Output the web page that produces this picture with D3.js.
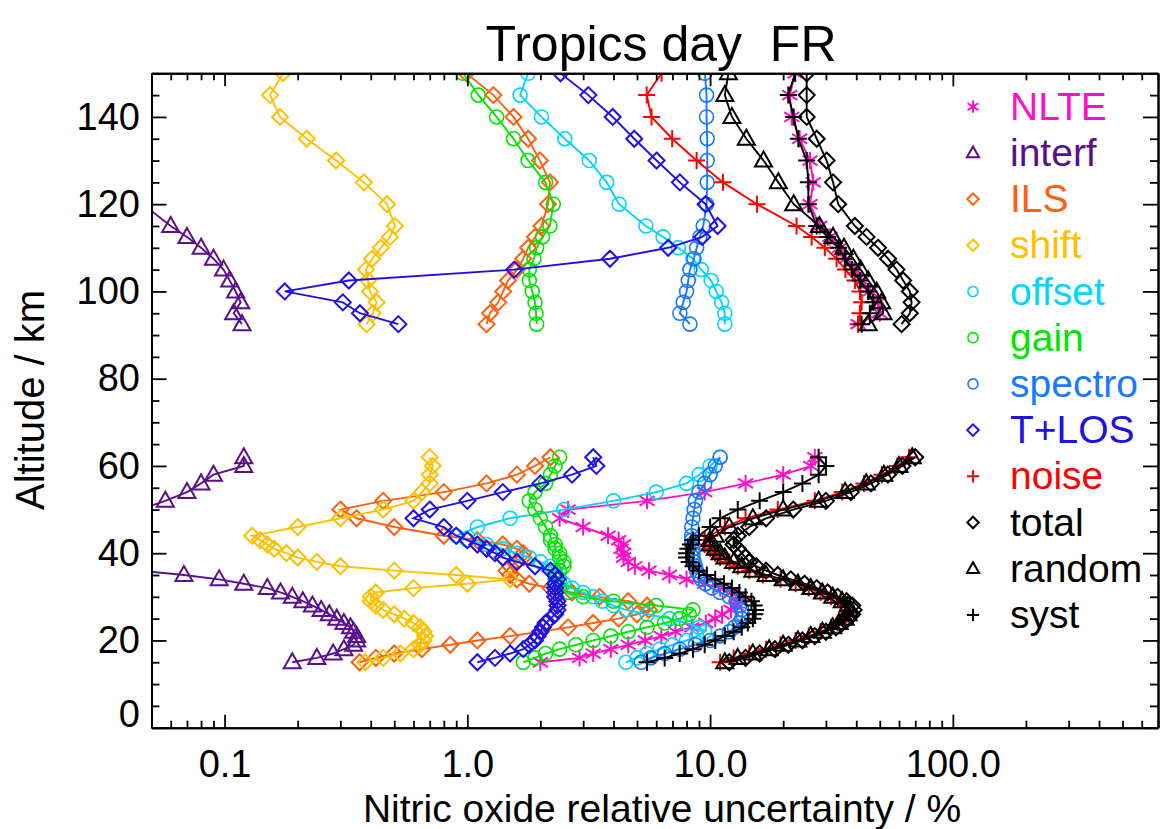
<!DOCTYPE html>
<html><head><meta charset="utf-8">
<script src="https://cdn.jsdelivr.net/npm/d3@7"></script>
<style>
body{margin:0;background:#fff}
svg{display:block}
text{font-family:"Liberation Sans",Arial,Helvetica,sans-serif;fill:#000}
</style>
</head><body>
<svg id="chart" width="1168" height="829"></svg>
<script>
// ---------------- DATA ----------------
const altHigh = [92.5,95,97.5,100,102.5,105,107.5,110,112.5,115,120,125,130,135,140,145,150];
const altLow  = [15,16,17,18,19,20,21,22,23,24,25,26,27,28,29,30,31,32,33,34,35,36,37,38,39,40,41,42,43,44,46,48,50,52,54,56,58,60,62];

const seriesNames  = ["NLTE","interf","ILS","shift","offset","gain","spectro","T+LOS","noise","total","random","syst"];
const seriesColors = ["#ff10c8","#5a0f8c","#ff6010","#ffc000","#00d5ff","#00e600","#1a78ff","#2010e8","#ff0000","#000000","#000000","#000000"];
const seriesSymbols= ["asterisk","triangle","diamond","diamond","circle","circle","circle","diamond","plus","diamond","triangle","plus"];

const nlteLow   = [2.0,2.9,3.3,3.9,4.6,5.4,6.3,7.2,8.4,9.6, 10.5,11.2,12.2,12.8,13.2,13.0,12.2,11.0,9.5,8.0, 6.8,5.6,4.9,4.6,4.4,4.4,4.3,4.4,4.2,3.8, 3.0,2.4,2.6,5.5,9.5,14,20,26,27];
const interfLow = [0.19,0.24,0.28,0.31,0.34,0.35,0.35,0.34,0.33,0.31, 0.29,0.27,0.25,0.23,0.21,0.19,0.17,0.15,0.12,0.095, 0.068,0.045,null,null,null,null,null,null,null,null, null,null,0.045,0.057,0.07,0.08,0.09,0.12,0.12];
const ilsLow    = [0.36,0.42,0.5,0.65,0.85,1.1,1.5,2.0,2.6,3.3, 4.2,5.0,5.6,5.5,4.6,3.5,2.7,2.2,1.8,1.6, 1.5,1.45,1.5,1.6,1.7,1.7,1.6,1.4,1.1,0.8, 0.5,0.35,0.3,0.45,0.8,1.2,1.6,1.9,2.2];
const shiftLow  = [0.38,0.45,0.53,0.6,0.64,0.66,0.67,0.66,0.64,0.6, 0.55,0.5,0.45,0.42,0.4,0.4,0.42,0.6,1.0,1.5, 0.9,0.5,0.3,0.24,0.2,0.18,0.16,0.15,0.14,0.13, 0.2,0.3,0.45,0.6,0.65,0.7,0.7,0.72,0.7];
const offsetLow = [4.5,5,5.5,6.2,7,8,8.8,9.5,9,8, 6.8,5.5,4.5,4.0,3.6,3.3,3.0,2.7,2.5,2.4, 2.3,2.3,2.2,2.0,1.8,1.6,1.4,1.2,1.0,0.9, 1.1,1.5,2.5,4,6,8,9,10,11];
const gainLow   = [1.7,1.9,2.1,2.4,2.8,3.3,3.9,4.6,5.5,6.5, 7.5,8.2,8.5,6,4,3,2.6,2.4,2.3,2.3, 2.3,2.4,2.5,2.5,2.4,2.4,2.3,2.3,2.2,2.2, 2.1,2.0,1.9,1.8,1.9,2.1,2.2,2.3,2.4];
const spectroLow= [5.2,5.7,6.5,7.5,8.7,10,11,12,12.6,13.2, 13.5,13.6,13.5,13.3,12.8,12,11,10.2,9.6,9.2, 9.0,8.8,8.7,8.6,8.5,8.5,8.5,8.4,8.4,8.4, 8.4,8.5,8.6,8.7,9,9.5,10,10.5,11];
const tlosLow   = [1.1,1.3,1.5,1.7,1.8,1.9,1.95,2.0,2.05,2.1, 2.2,2.3,2.35,2.35,2.35,2.3,2.3,2.3,2.3,2.35, 2.3,2.2,1.9,1.6,1.4,1.3,1.2,1.1,1.0,0.9, 0.8,0.6,0.7,1.0,1.4,2.0,2.7,3.4,3.3];
const noiseLow  = [11,12.5,14.5,17,19.5,22.5,25.5,28.5,31.5,33.5, 35.5,36.5,37,36.5,34.5,31.5,28.5,25.5,22.5,19.5, 16.5,14.5,13,12,11,10.5,10,9.5,9.5,10, 11.5,14,19,27,35,43,51,59,66];
const totalLow  = [12,14,16,18.5,21,24,27,30,33,35, 37,38.5,39,38.5,36.5,33.5,30.5,27.5,24.5,21.5, 19,17,15.5,14.5,14,13.5,13,12.5,12.5,13, 14.5,17,22,30,38,46,54,62,70];
const randomLow = [11.5,13,15,17.5,20,23,26,29,32,34, 36,37,37.5,37,35,32,29,26,23,20, 17,15,13.5,12.5,11.5,11,10.5,10,10,10.5, 12,15,20,28,36,44,52,60,68];
const systLow   = [5.5,6.5,7.5,8.5,9.5,10.5,11.5,12.5,13.5,14.3, 15,15.3,15.4,15.2,14.8,14,13.2,12.3,11.4,10.5, 9.7,9.0,8.5,8.2,8.0,8.0,8.1,8.3,8.5,9, 10,11,13,16,20,24,28,30,28];

const nlteHigh   = [40.7,50,49.2,45.5,42.1,39.5,36.3,34.2,31.2,28.3,25.8,26.6,25.8,23.4,21.7,21.3,22.4];
const interfHigh = [0.118,0.109,0.1165,0.111,0.105,0.099,0.090,0.080,0.070,0.060,0.046,null,null,null,null,null,null];
const ilsHigh    = [1.20,1.24,1.34,1.405,1.47,1.60,1.70,1.78,1.90,2.02,2.15,2.19,1.99,1.78,1.55,1.28,0.99];
const shiftHigh  = [0.385,0.408,0.423,0.397,0.39,0.382,0.405,0.44,0.48,0.503,0.467,0.375,0.288,0.218,0.169,0.154,0.174];
const offsetHigh = [11.5,11.5,11.15,10.6,10.1,9.2,8.5,7.4,6.4,5.44,4.22,3.75,3.18,2.52,2.02,1.65,1.78];
const gainHigh   = [1.93,1.92,1.9,1.85,1.8,1.8,1.88,1.93,2.04,2.19,2.26,2.1,1.78,1.55,1.32,1.11,0.96];
const spectroHigh= [8.26,7.51,7.75,8.0,8.13,8.26,8.58,8.8,9.08,9.37,9.67,9.73,9.73,9.73,9.67,9.67,9.52];
const tlosHigh   = [0.52,0.361,0.307,0.177,0.325,1.56,3.87,6.72,9.28,10.74,9.58,7.51,6.02,4.87,3.97,3.15,2.42];
const noiseHigh  = [40.7,41.4,42.1,41.4,39.5,36.1,33.2,29.7,26.2,22.7,15.6,11.3,8.8,6.98,5.74,5.48,6.31];
const totalHigh  = [61.5,66.5,67.6,66.5,62.4,58.6,54.1,49.2,44.1,39.5,33.7,32.1,30.2,27.5,25.0,25.0,25.0];
const randomHigh = [44.8,51.6,50.9,48.5,44.8,41.7,38.9,35.6,32.1,28.2,22.1,19.1,16.6,14.1,12.3,11.5,11.9];
const systHigh   = [42.1,45.5,47,44.8,41.4,38.4,35.9,33.8,30.5,27.5,25.4,25.4,25.0,23.1,22.1,21.0,22.4];

const lowValues  = [nlteLow,interfLow,ilsLow,shiftLow,offsetLow,gainLow,spectroLow,tlosLow,noiseLow,totalLow,randomLow,systLow];
const highValues = [nlteHigh,interfHigh,ilsHigh,shiftHigh,offsetHigh,gainHigh,spectroHigh,tlosHigh,noiseHigh,totalHigh,randomHigh,systHigh];

const xMajorTicks = [0.1,1,10,100];
const xMajorLabels = ["0.1","1.0","10.0","100.0"];
const yMajorTicks = [0,20,40,60,80,100,120,140];

// ---------------- LAYOUT ----------------
const svg = d3.select("#chart");
const L = 151.5, R = 1158, T = 73.3, B = 727.7;
const x = d3.scaleLog().domain([0.05,700]).range([L,R]);
const y = d3.scaleLinear().domain([0,150]).range([B,T]);

svg.append("defs").append("clipPath").attr("id","clip")
  .append("rect").attr("x",L).attr("y",T).attr("width",R-L).attr("height",B-T);

function symPath(type, s){
  switch(type){
    case "diamond": return `M0,${-8*s}L${8*s},0L0,${8*s}L${-8*s},0Z`;
    case "triangle": return `M0,${-9*s}L${8.5*s},${6*s}L${-8.5*s},${6*s}Z`;
    case "plus": return `M${-8.5*s},0H${8.5*s}M0,${-8.5*s}V${8.5*s}`;
    case "asterisk": {
      const a = 8.5*s, dx = 7.5*s, dy = 4.8*s;
      return `M0,${-a}V${a}M${-dx},${-dy}L${dx},${dy}M${-dx},${dy}L${dx},${-dy}`;
    }
    default: return "";
  }
}
function drawSymbol(g, type, color, cx, cy, k){
  if(type==="circle"){
    g.append("circle").attr("cx",cx).attr("cy",cy).attr("r",7*k)
      .attr("fill","none").attr("stroke",color).attr("stroke-width",1.6);
  } else {
    g.append("path").attr("d",symPath(type,k)).attr("transform",`translate(${cx},${cy})`)
      .attr("fill","none").attr("stroke",color).attr("stroke-width",2).attr("stroke-linejoin","miter");
  }
}

// ---------------- SERIES ----------------
const plot = svg.append("g").attr("clip-path","url(#clip)");
const line = d3.line().defined(d=>d.v!=null).x(d=>x(d.v)).y(d=>y(d.a));

seriesNames.forEach((name,i)=>{
  const g = plot.append("g");
  [[altLow,lowValues[i]],[altHigh,highValues[i]]].forEach(([alts,vals])=>{
    const pts = alts.map((a,j)=>({a:a,v:vals[j]}));
    g.append("path").datum(pts).attr("d",line)
      .attr("fill","none").attr("stroke",seriesColors[i]).attr("stroke-width",1.9);
    pts.filter(d=>d.v!=null).forEach(d=>drawSymbol(g,seriesSymbols[i],seriesColors[i],x(d.v),y(d.a),1));
  });
});

// ---------------- AXES ----------------
const xMinor = [];
[0.01,0.1,1,10,100].forEach(d=>{for(let m=2;m<=9;m++){const v=d*m; if(v>=0.05&&v<=700) xMinor.push(+v.toPrecision(3));}});
const yMinor = d3.range(0,151,5).filter(v=>v%20!==0);

function styleAxis(g){
  g.selectAll("path.domain").attr("stroke","#000").attr("stroke-width",2);
  g.selectAll(".tick line").attr("stroke","#000").attr("stroke-width",1.8);
  g.selectAll("text").style("font-family",'"Liberation Sans",Arial,sans-serif').attr("fill","#000");
}
const gxb = svg.append("g").attr("transform",`translate(0,${B})`)
  .call(d3.axisBottom(x).tickValues(xMajorTicks).tickSize(-13).tickSizeOuter(0).tickPadding(22)
     .tickFormat((d,i)=>xMajorLabels[i]));
gxb.selectAll("text").style("font-size","38px");
styleAxis(gxb);
const gxbm = svg.append("g").attr("transform",`translate(0,${B})`)
  .call(d3.axisBottom(x).tickValues(xMinor).tickSize(-7).tickSizeOuter(0).tickFormat(""));
styleAxis(gxbm);
const gxt = svg.append("g").attr("transform",`translate(0,${T})`)
  .call(d3.axisTop(x).tickValues(xMajorTicks).tickSize(-13).tickSizeOuter(0).tickFormat(""));
styleAxis(gxt);
const gxtm = svg.append("g").attr("transform",`translate(0,${T})`)
  .call(d3.axisTop(x).tickValues(xMinor).tickSize(-7).tickSizeOuter(0).tickFormat(""));
styleAxis(gxtm);
const gyl = svg.append("g").attr("transform",`translate(${L},0)`)
  .call(d3.axisLeft(y).tickValues(yMajorTicks).tickSize(-15).tickSizeOuter(0).tickPadding(11.5).tickFormat(d3.format("d")));
gyl.selectAll("text").style("font-size","38px");
gyl.selectAll(".tick").filter(d=>d===0).select("text").attr("dy","-0.02em");
styleAxis(gyl);
const gylm = svg.append("g").attr("transform",`translate(${L},0)`)
  .call(d3.axisLeft(y).tickValues(yMinor).tickSize(-8).tickSizeOuter(0).tickFormat(""));
styleAxis(gylm);
const gyr = svg.append("g").attr("transform",`translate(${R},0)`)
  .call(d3.axisRight(y).tickValues(yMajorTicks).tickSize(-15).tickSizeOuter(0).tickFormat(""));
styleAxis(gyr);
const gyrm = svg.append("g").attr("transform",`translate(${R},0)`)
  .call(d3.axisRight(y).tickValues(yMinor).tickSize(-8).tickSizeOuter(0).tickFormat(""));
styleAxis(gyrm);

// ---------------- TEXT ----------------
svg.append("text").attr("x",661).attr("y",61).attr("text-anchor","middle")
  .style("font-size","50px").style("white-space","pre").text("Tropics day  FR");
svg.append("text").attr("x",662).attr("y",822).attr("text-anchor","middle")
  .style("font-size","39px").text("Nitric oxide relative uncertainty / %");
svg.append("text").attr("transform","translate(44,400) rotate(-90)").attr("text-anchor","middle")
  .style("font-size","40px").text("Altitude / km");

// ---------------- LEGEND ----------------
const leg = svg.append("g");
seriesNames.forEach((name,i)=>{
  const cy = 106.7 + i*46.2;
  drawSymbol(leg, seriesSymbols[i], seriesColors[i], 973, cy, 0.72);
  leg.append("text").attr("x",1010).attr("y",cy+13).style("font-size","39px")
    .style("fill",seriesColors[i]).text(name);
});
</script>
</body></html>
